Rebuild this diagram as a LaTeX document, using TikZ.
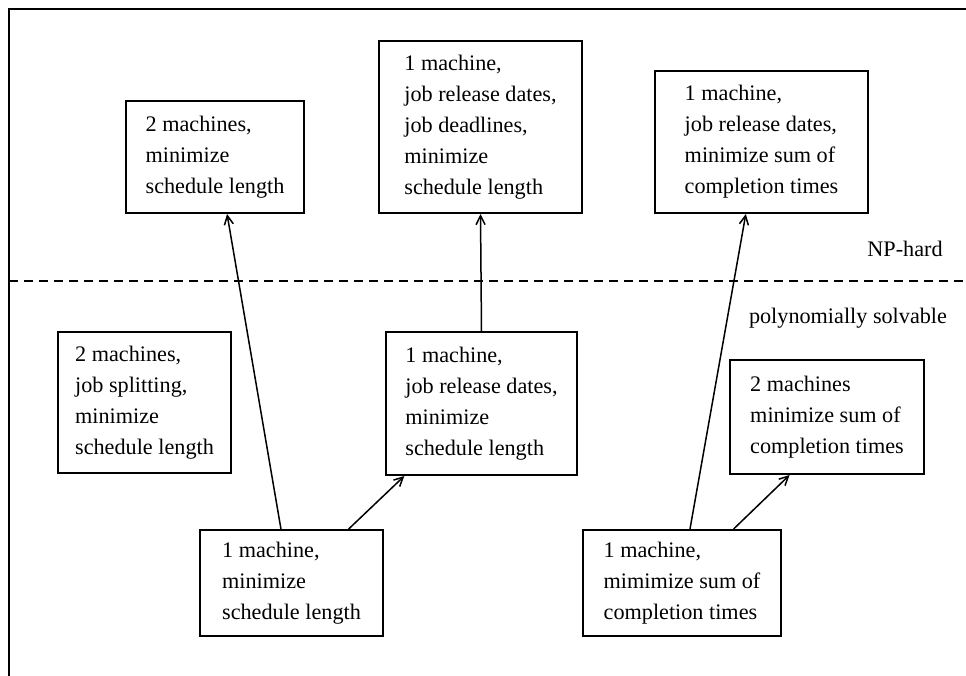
\documentclass[tikz,border=0pt]{standalone}
\usepackage{fontspec}
\setmainfont{Liberation Serif}
\usetikzlibrary{arrows.meta,calc}
\begin{document}
\begin{tikzpicture}[x=0.5pt,y=-0.5pt,
 box/.style={draw,line width=1pt,rectangle,inner sep=0pt,align=left,font=\fontsize{11.1}{15.5}\selectfont},
 link/.style={line width=0.75pt,-{Straight Barb[length=4.5pt,width=4.5pt]}},
 lbl/.style={font=\fontsize{11.1}{15.5}\selectfont,inner sep=0pt},
 frame/.style={line width=1pt},
 divider/.style={line width=1pt,dash pattern=on 4.5pt off 3pt}]
\useasboundingbox (0,0) rectangle (966,676);
\draw[frame] (9,676) -- (9,9) -- (966,9);
\draw[divider] (9,281) -- (966,281);
\node[lbl] (np) at (905,249) {NP-hard};
\node[lbl] (poly) at (848,318) {polynomially solvable};
\node[box,minimum width=89pt,minimum height=56pt] (A) at (215,157) {2 machines,\\ minimize\\ schedule length};
\node[box,minimum width=101.5pt,minimum height=86pt] (B) at (480.5,127) {1 machine,\\ job release dates,\\ job deadlines,\\ minimize\\ schedule length};
\node[box,minimum width=106.5pt,minimum height=71pt] (C) at (761.5,142) {1 machine,\\ job release dates,\\ minimize sum of\\ completion times};
\node[box,minimum width=86.5pt,minimum height=70.5pt] (D) at (144.5,402.5) {2 machines,\\ job splitting,\\ minimize\\ schedule length};
\node[box,minimum width=95.5pt,minimum height=71.5pt] (E) at (481.5,403.5) {1 machine,\\ job release dates,\\ minimize\\ schedule length};
\node[box,minimum width=97pt,minimum height=57pt] (F) at (827,417) {2 machines\\ minimize sum of\\ completion times};
\node[box,minimum width=91.5pt,minimum height=53pt] (G) at (291.5,583) {1 machine,\\ minimize\\ schedule length};
\node[box,minimum width=99pt,minimum height=53pt] (H) at (682,583) {1 machine,\\ mimimize sum of\\ completion times};
\draw[link] ($(G.north west)!0.443!(G.north east)$) -- ($(A.south west)!0.567!(A.south east)$);
\draw[link] ($(G.north west)!0.809!(G.north east)$) -- ($(E.south west)!0.10!(E.south east)$);
\draw[link] (E.north) -- (B.south);
\draw[link] ($(H.north west)!0.54!(H.north east)$) -- ($(C.south west)!0.427!(C.south east)$);
\draw[link] ($(H.north west)!0.758!(H.north east)$) -- ($(F.south west)!0.309!(F.south east)$);
\end{tikzpicture}
\end{document}
